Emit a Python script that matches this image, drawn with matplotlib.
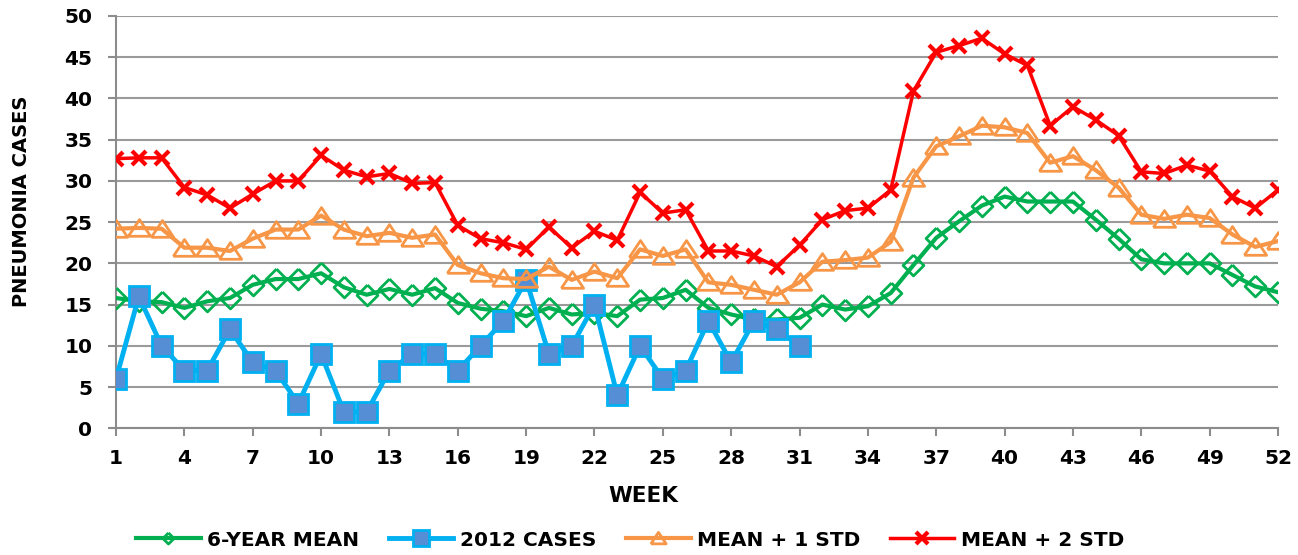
import matplotlib
matplotlib.use("Agg")
import matplotlib.pyplot as plt

# weekly pneumonia counts
weeks = list(range(1, 53))

mean_6yr = [15.8, 15.4, 15.3, 14.6, 15.4, 15.8, 17.4, 18.1, 18.1, 18.8,
            17.1, 16.2, 16.9, 16.2, 17.0, 15.2, 14.5, 14.2, 13.6, 14.6,
            13.8, 14.0, 13.6, 15.6, 15.8, 16.8, 14.6, 13.8, 13.2, 13.2,
            13.4, 15.0, 14.4, 14.8, 16.4, 19.8, 23.1, 25.1, 27.0, 28.1,
            27.5, 27.5, 27.5, 25.3, 23.0, 20.5, 20.0, 20.0, 20.0, 18.6,
            17.2, 16.5]

cases_2012 = [6, 16, 10, 7, 7, 12, 8, 7, 3, 9, 2, 2, 7, 9, 9, 7, 10, 13,
              18, 9, 10, 15, 4, 10, 6, 7, 13, 8, 13, 12, 10]

mean_1std = [24.2, 24.3, 24.2, 21.9, 21.9, 21.5, 23.0, 24.1, 24.1, 25.8,
             24.1, 23.3, 23.7, 23.1, 23.5, 19.8, 18.8, 18.2, 18.1, 19.6,
             18.0, 19.0, 18.2, 21.7, 20.9, 21.7, 17.7, 17.4, 16.8, 16.2,
             17.7, 20.2, 20.4, 20.7, 22.6, 30.4, 34.2, 35.4, 36.7, 36.5,
             35.8, 32.2, 33.0, 31.3, 29.2, 25.9, 25.4, 25.9, 25.5, 23.5,
             22.0, 22.7]

mean_2std = [32.7, 32.8, 32.8, 29.2, 28.3, 26.7, 28.4, 30.0, 30.0, 33.1,
             31.3, 30.5, 30.9, 29.7, 29.8, 24.6, 23.0, 22.5, 21.7, 24.4,
             21.9, 23.9, 22.8, 28.6, 26.1, 26.5, 21.5, 21.5, 20.9, 19.6,
             22.2, 25.3, 26.4, 26.7, 28.9, 40.9, 45.6, 46.4, 47.3, 45.4,
             44.0, 36.7, 39.0, 37.4, 35.5, 31.1, 30.9, 31.9, 31.2, 28.1,
             26.7, 28.9]

xtick_weeks = list(range(1, 53, 3))

plt.rcParams['font.family'] = ['DejaVu Sans']
plt.rcParams['font.weight'] = 'bold'

diamond = [(0, 1), (1, 0), (0, -1), (-1, 0), (0, 1)]
triangle = [(-1, -0.7), (1, -0.7), (0, 0.8), (-1, -0.7)]

fig = plt.figure(figsize=(12.98, 5.55), dpi=100)
ax = fig.add_axes([0.0894, 0.2283, 0.8952, 0.7429])

ax.plot(weeks, mean_6yr, color='#00B050', lw=3, marker=diamond, ms=15,
        mfc='none', mec='#00B050', mew=2, label='6-YEAR MEAN', zorder=3)
ax.plot(weeks[:len(cases_2012)], cases_2012, color='#00B0F0', lw=3.5, marker='s', ms=15,
        mfc='#558ED5', mec='#00B0F0', mew=2, label='2012 CASES', zorder=4)
ax.plot(weeks, mean_1std, color='#F79646', lw=3, marker=triangle, ms=16,
        mfc='none', mec='#F79646', mew=2, label='MEAN + 1 STD', zorder=5)
ax.plot(weeks, mean_2std, color='#FF0000', lw=2.5, marker='x', ms=10,
        mec='#FF0000', mew=3, label='MEAN + 2 STD', zorder=6)

ax.set_xlim(1, 52)
ax.set_ylim(0, 50)
ax.set_yticks(range(0, 51, 5))
ax.set_xticks(xtick_weeks)
ax.grid(axis='y', color='#9A9A9A', lw=1.5)
ax.set_axisbelow(True)
for s in ['top', 'right']:
    ax.spines[s].set_visible(False)
for s in ['left', 'bottom']:
    ax.spines[s].set_color('#8C8C8C')
    ax.spines[s].set_linewidth(1.5)
ax.tick_params(axis='both', colors='#8C8C8C', length=6, width=1.5,
               labelcolor='black', labelsize=14.5)
ax.tick_params(axis='x', pad=9)
ax.tick_params(axis='y', pad=11)

fig.text(643 / 1298, 1 - 496 / 555, 'WEEK', fontsize=15.5, fontweight='bold',
         ha='center', va='center')
fig.text(22 / 1298, 1 - 201 / 555, 'PNEUMONIA CASES', fontsize=14, fontweight='bold',
         ha='center', va='center', rotation=90)

leg = fig.legend(loc='center', bbox_to_anchor=(630 / 1298, 1 - 540 / 555), ncol=4,
                 frameon=False, fontsize=14.5, handlelength=3.2, columnspacing=1.5,
                 handletextpad=0.3)
for h, ms in zip(leg.legend_handles, [8, 11, 11, 8]):
    h.set_markersize(ms)

fig.savefig('out.png', dpi=100)
